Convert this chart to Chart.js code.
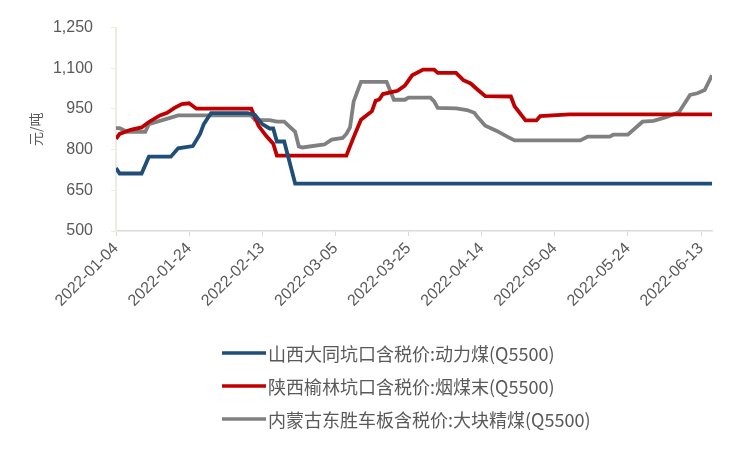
<!DOCTYPE html>
<html>
<head>
<meta charset="utf-8">
<script src="https://cdn.jsdelivr.net/npm/chart.js@4.4.0/dist/chart.umd.min.js"></script>
<style>
  html, body { margin: 0; background: #fff; }
  #wrap { width: 750px; height: 450px; }
</style>
</head>
<body>
<div id="wrap"><canvas id="grafico"></canvas></div>
<script>
// dia 0 = 2022-01-04
const inicio = Date.UTC(2022, 0, 4);

const nomes = [
  '山西大同坑口含税价:动力煤(Q5500)',
  '陕西榆林坑口含税价:烟煤末(Q5500)',
  '内蒙古东胜车板含税价:大块精煤(Q5500)'
];

const diasDatong = [0, 1, 7, 9, 15, 17, 21, 23, 24, 26, 36, 38, 40, 42, 43, 44, 46, 49, 163];
const valoresDatong = [732, 712, 712, 774, 774, 805, 813, 858, 894, 935, 935, 928, 894, 878, 878, 830, 830, 675, 675];

const diasYulin = [0, 1, 4, 7, 9, 12, 14, 16, 18, 20, 22, 37, 39, 41, 43, 44, 63, 65, 67, 70, 71, 72, 73, 77, 79, 81, 84, 87, 88, 93, 95, 97, 99, 101, 108, 109, 112, 115, 116, 124, 163];
const valoresYulin = [840, 858, 873, 882, 902, 926, 936, 954, 968, 971, 951, 951, 888, 852, 822, 778, 778, 846, 910, 942, 980, 985, 1005, 1017, 1036, 1074, 1095, 1095, 1083, 1083, 1056, 1044, 1020, 997, 996, 960, 908, 908, 924, 930, 930];

const diasDongsheng = [0, 1, 3, 8, 9, 12, 15, 17, 37, 38, 42, 44, 46, 49, 50, 51, 57, 59, 62, 63, 64, 65, 67, 74, 76, 79, 80, 86, 87, 88, 93, 96, 98, 99, 101, 104, 107, 109, 127, 129, 135, 136, 140, 144, 147, 150, 151, 154, 157, 159, 161, 163];
const valoresDongsheng = [879, 879, 866, 866, 894, 906, 918, 926, 926, 910, 909, 903, 903, 866, 812, 808, 819, 837, 843, 858, 882, 978, 1050, 1050, 984, 984, 992, 992, 978, 954, 952, 946, 936, 918, 888, 870, 848, 834, 834, 848, 848, 855, 855, 903, 906, 918, 922, 939, 1002, 1008, 1020, 1074];

const ticksX = [0, 20, 40, 60, 80, 100, 120, 140, 160];
const ticksY = [500, 650, 800, 950, 1100, 1250];

const cores = ['#1f4e79', '#c00000', '#808080'];

function pontos(dias, valores) {
  return dias.map((d, i) => ({ x: d, y: valores[i] }));
}

function dataTexto(dia) {
  return new Date(inicio + dia * 86400000).toISOString().slice(0, 10);
}

// legenda vertical abaixo do gráfico
const legendaManual = {
  id: 'legendaManual',
  afterDraw(chart) {
    const ctx = chart.ctx;
    ctx.save();
    chart.data.datasets.forEach((ds, i) => {
      const y = 353 + i * 33;
      ctx.strokeStyle = ds.borderColor;
      ctx.lineWidth = 3.5;
      ctx.beginPath();
      ctx.moveTo(222, y);
      ctx.lineTo(266, y);
      ctx.stroke();
      ctx.fillStyle = '#595959';
      ctx.font = '18px "Noto Sans CJK SC"';
      ctx.textBaseline = 'middle';
      ctx.fillText(ds.label, 268, y + 1);
    });
    ctx.restore();
  }
};

const ctx = document.getElementById('grafico').getContext('2d');
new Chart(ctx, {
  type: 'line',
  data: {
    datasets: [
      { label: nomes[0], data: pontos(diasDatong, valoresDatong), borderColor: cores[0] },
      { label: nomes[1], data: pontos(diasYulin, valoresYulin), borderColor: cores[1] },
      { label: nomes[2], data: pontos(diasDongsheng, valoresDongsheng), borderColor: cores[2] }
    ]
  },
  options: {
    responsive: true,
    maintainAspectRatio: false,
    animation: false,
    datasets: { line: { borderWidth: 3.8, pointRadius: 0, tension: 0, fill: false } },
    layout: { padding: { top: 23, right: 38, bottom: 0, left: 0 } },
    plugins: { legend: { display: false }, tooltip: { enabled: false } },
    scales: {
      x: {
        type: 'linear',
        min: 0,
        max: 163,
        afterFit(scale) { scale.height = 219; },
        afterBuildTicks(scale) { scale.ticks = ticksX.map(v => ({ value: v })); },
        border: { color: '#d9d9d9', width: 1.5 },
        grid: { drawOnChartArea: false, color: '#d9d9d9', tickLength: 5 },
        ticks: {
          minRotation: 45,
          maxRotation: 45,
          padding: 3,
          color: '#595959',
          font: { family: 'Liberation Sans', size: 16 },
          callback: v => dataTexto(v)
        }
      },
      y: {
        min: 500,
        max: 1250,
        afterFit(scale) { scale.width = 116; },
        afterBuildTicks(scale) { scale.ticks = ticksY.map(v => ({ value: v })); },
        border: { color: '#eeebe0', width: 2 },
        grid: { drawOnChartArea: false, color: '#eeebe0', tickLength: 5 },
        ticks: {
          padding: 18,
          color: '#595959',
          font: { family: 'Liberation Sans', size: 16 },
          callback: v => v.toLocaleString('en-US')
        },
        title: {
          display: true,
          text: '元/吨',
          color: '#595959',
          font: { family: 'Noto Sans CJK SC', size: 14 },
          padding: { top: 27, bottom: 0 }
        }
      }
    }
  },
  plugins: [legendaManual]
});
</script>
</body>
</html>
